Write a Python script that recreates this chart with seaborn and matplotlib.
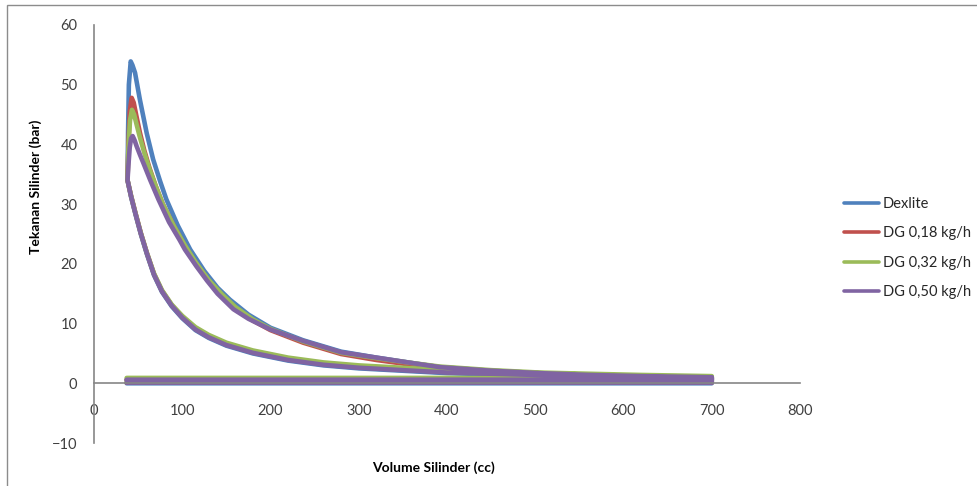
import numpy as np
import pandas as pd
import matplotlib
matplotlib.use("Agg")
import matplotlib.pyplot as plt
import seaborn as sns
from matplotlib.patches import Rectangle

# ---------------- data ----------------
series_names = ["Dexlite", "DG 0,18 kg/h", "DG 0,32 kg/h", "DG 0,50 kg/h"]
series_colors = ["#4F81BD", "#C0504D", "#9BBB59", "#8064A2"]

# compression stroke (shared volume grid, BDC -> TDC)
V_comp = [700, 600, 500, 450, 400, 350, 300, 260, 220, 180, 150, 130, 115, 100, 88, 77, 68, 60, 53, 47, 42, 38]
P_comp_dexlite = [0.8, 1.0, 1.3, 1.5, 1.7, 2.1, 2.5, 3.0, 3.8, 5.0, 6.3, 7.6, 8.9, 10.9, 12.9, 15.3, 18.1, 21.6, 25.0, 28.3, 31.2, 34.0]
P_comp_dg018 = [0.9, 1.1, 1.5, 1.7, 1.9, 2.3, 2.7, 3.2, 4.0, 5.2, 6.5, 7.8, 9.1, 11.1, 13.1, 15.5, 18.3, 21.8, 25.2, 28.5, 31.4, 34.0]
P_comp_dg032 = [1.0, 1.3, 1.7, 1.9, 2.2, 2.6, 3.0, 3.5, 4.3, 5.5, 6.8, 8.1, 9.4, 11.3, 13.2, 15.6, 18.4, 21.8, 25.2, 28.5, 31.4, 34.0]
P_comp_dg050 = [0.9, 1.1, 1.4, 1.6, 1.8, 2.2, 2.6, 3.1, 3.9, 5.1, 6.4, 7.7, 9.0, 11.0, 13.0, 15.4, 18.2, 21.7, 25.1, 28.4, 31.3, 34.0]

# combustion + expansion stroke (TDC -> BDC)
V_exp_dexlite = [38, 38.6, 39.5, 41.6, 43.5, 46.5, 52, 59.7, 67, 75, 82, 95, 109, 125, 140, 154, 175, 200, 237, 280, 320, 360, 392, 450, 505, 560, 619, 700]
P_exp_dexlite = [34.0, 42.0, 50.0, 53.9, 53.3, 52.0, 47.5, 41.9, 37.5, 33.8, 30.8, 26.4, 22.4, 18.8, 16.0, 14.0, 11.5, 9.3, 7.2, 5.3, 4.3, 3.4, 2.7, 2.1, 1.7, 1.4, 1.2, 1.0]

V_exp_dg018 = [38, 39, 40.5, 42.7, 45, 48, 52, 57, 63, 70, 78, 90, 103, 116, 130, 145, 160, 180, 200, 237, 280, 320, 360, 392, 450, 505, 560, 619, 700]
P_exp_dg018 = [34.0, 40.0, 45.5, 47.8, 47.0, 44.8, 42.0, 39.0, 36.0, 33.0, 30.0, 26.5, 23.0, 20.0, 17.2, 14.7, 12.6, 10.5, 8.9, 6.8, 4.9, 3.9, 3.1, 2.5, 1.9, 1.6, 1.4, 1.2, 1.0]

V_exp_dg032 = [38, 39, 40.8, 43, 45.5, 48.5, 52, 57, 63, 70, 78, 90, 103, 116, 130, 145, 160, 180, 200, 237, 280, 320, 360, 392, 450, 505, 560, 619, 700]
P_exp_dg032 = [34.0, 39.5, 44.0, 45.8, 45.0, 43.2, 41.2, 38.6, 35.8, 33.0, 30.0, 26.5, 23.1, 20.1, 17.3, 14.9, 12.8, 10.7, 9.1, 7.0, 5.1, 4.2, 3.4, 2.8, 2.2, 1.8, 1.6, 1.4, 1.2]

V_exp_dg050 = [38, 39, 40.5, 42, 43.8, 46, 48.3, 52, 55.9, 63.5, 73, 85, 97, 103, 116, 128, 140, 158, 175, 200, 237, 280, 320, 360, 392, 450, 505, 560, 619, 700]
P_exp_dg050 = [34.0, 36.5, 39.5, 41.0, 41.4, 40.7, 39.7, 38.3, 36.9, 34.1, 30.8, 27.0, 24.0, 22.4, 19.6, 17.2, 15.0, 12.4, 10.8, 9.0, 7.1, 5.2, 4.3, 3.4, 2.7, 2.1, 1.7, 1.4, 1.2, 1.0]

# gas exchange (exhaust / intake) lines
V_gas = [700, 37]
P_exhaust = [0.5, 0.6, 0.9, 0.6]
P_intake = [0.0, 0.1, 0.2, 0.1]

comp_P = [P_comp_dexlite, P_comp_dg018, P_comp_dg032, P_comp_dg050]
exp_V = [V_exp_dexlite, V_exp_dg018, V_exp_dg032, V_exp_dg050]
exp_P = [P_exp_dexlite, P_exp_dg018, P_exp_dg032, P_exp_dg050]

rows = []
for i, name in enumerate(series_names):
    V = list(V_gas[::-1]) + V_comp + exp_V[i] + V_gas
    P = [P_intake[i]] * 2 + comp_P[i] + exp_P[i] + [P_exhaust[i]] * 2
    for k, (v, p) in enumerate(zip(V, P)):
        rows.append({"series": name, "order": k, "V": v, "P": p})
df = pd.DataFrame(rows)

# ---------------- plot ----------------
sns.set_theme(style="white")
plt.rcParams["font.family"] = ["Lato", "DejaVu Sans"]

fig = plt.figure(figsize=(9.78, 4.86), dpi=100)
ax = fig.add_axes([94 / 978, 1 - 443 / 486, 706 / 978, 418 / 486])

sns.lineplot(data=df, x="V", y="P", hue="series", hue_order=series_names,
             palette=series_colors, sort=False, estimator=None, units="series",
             linewidth=3.3, ax=ax, legend=True)

ax.set_xlim(0, 800)
ax.set_ylim(-10, 60)
ax.set_xticks(np.arange(0, 801, 100))
ax.set_yticks(np.arange(-10, 61, 10))

axis_col = "#868686"
for s in ["top", "right"]:
    ax.spines[s].set_visible(False)
ax.spines["bottom"].set_position(("data", 0))
ax.spines["left"].set_position(("data", 0))
for s in ["bottom", "left"]:
    ax.spines[s].set_color(axis_col)
    ax.spines[s].set_linewidth(1.2)

ax.tick_params(axis="both", length=0, labelsize=10.5, colors="#404040")
ax.tick_params(axis="y", pad=12)
ax.tick_params(axis="x", pad=15)

ax.set_xlabel("Volume Silinder (cc)", fontsize=10, fontweight="bold", color="black")
ax.set_ylabel("Tekanan Silinder (bar)", fontsize=10, fontweight="bold", color="black")
ax.xaxis.set_label_coords((433 - 94) / 706, (443 - 461) / 418)
ax.yaxis.set_label_coords((42 - 94) / 706, (443 - 187) / 418)

leg = ax.legend(loc="center left", bbox_to_anchor=(837 / 978, 1 - 248 / 486),
                bbox_transform=fig.transFigure, frameon=False, fontsize=10.5,
                handlelength=2.4, handletextpad=0.25, labelspacing=1.05, borderpad=0)
for line in leg.get_lines():
    line.set_linewidth(2.6)
for t in leg.get_texts():
    t.set_color("#262626")

# outer chart border
fig.patches.append(Rectangle((7 / 978, -0.02), 1.05, 1 - 5 / 486 + 0.02,
                             transform=fig.transFigure, fill=False,
                             edgecolor="#8c8c8c", linewidth=1.0))

fig.savefig("out.png", dpi=100)
